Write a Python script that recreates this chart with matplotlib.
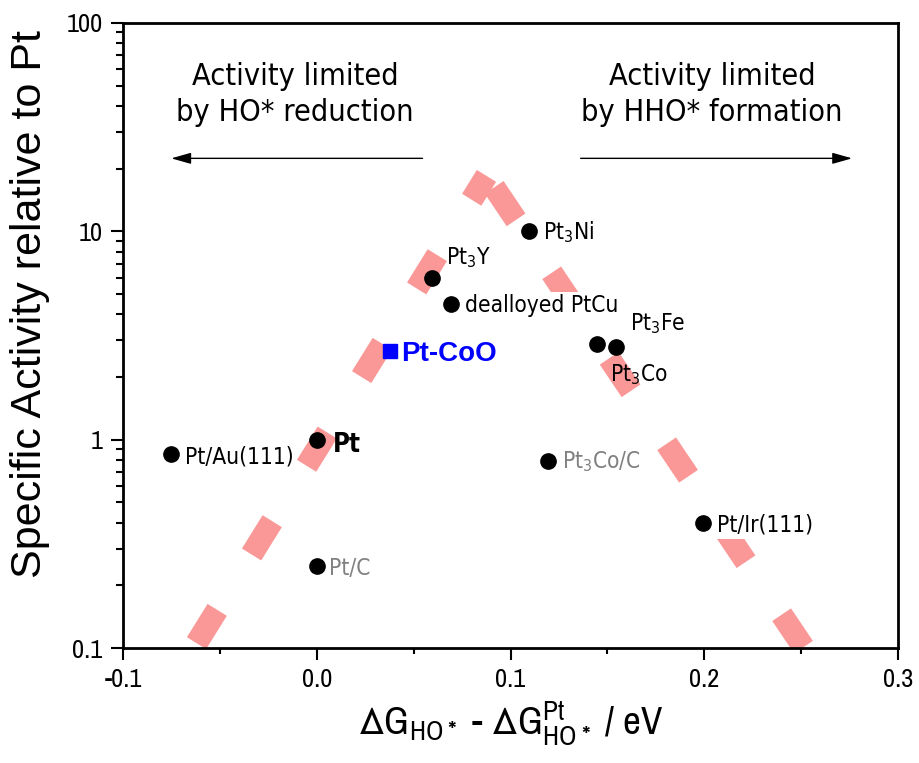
import matplotlib
matplotlib.use('Agg')
import matplotlib.pyplot as plt
import matplotlib.font_manager as fm
from matplotlib.ticker import FixedLocator, FixedFormatter, MultipleLocator, FormatStrFormatter, LogLocator, NullFormatter

# volcano line (Sabatier), both branches
volcano_x = [-0.0636, 0.0876, 0.2515]
volcano_y = [0.1, 18.45, 0.1]

# measured catalysts
names = ['Pt/Au(111)', 'Pt', 'Pt/C', r'Pt$\mathregular{_3}$Y', 'dealloyed PtCu',
         r'Pt$\mathregular{_3}$Ni', r'Pt$\mathregular{_3}$Co', r'Pt$\mathregular{_3}$Fe',
         r'Pt$\mathregular{_3}$Co/C', 'Pt/Ir(111)']
dG = [-0.0753, 0.0, 0.0, 0.0594, 0.0694, 0.1094, 0.1445, 0.1545, 0.1196, 0.1995]
activity = [0.854, 1.0, 0.248, 6.0, 4.48, 10.0, 2.88, 2.80, 0.79, 0.40]

# this work
new_name = 'Pt-CoO'
new_dG = 0.0376
new_activity = 2.67

# pick a narrow Arial-like face if there is one
narrow_prop = fm.FontProperties(family='Archivo Narrow')
for f in fm.fontManager.ttflist:
    if f.name == 'Liberation Sans Narrow' or (f.name == 'Liberation Sans' and f.stretch == 'condensed'):
        narrow_prop = fm.FontProperties(family=f.name, stretch=f.stretch)
        break
narrow = narrow_prop.get_family()[0]
narrow_stretch = narrow_prop.get_stretch()

plt.rcParams['axes.unicode_minus'] = False

fig = plt.figure(figsize=(9.2, 7.63), dpi=100)
ax = fig.add_axes([0.1337, 0.1507, 0.8424, 0.8192])

# dashed volcano, each branch has its own dash phase
ax.plot(volcano_x[:2][::-1], volcano_y[:2][::-1], color='#f99896', lw=16.3,
        ls=(0.49, (1.73, 2.88)), solid_capstyle='butt', dash_capstyle='butt', zorder=1)
ax.plot(volcano_x[1:], volcano_y[1:], color='#f99896', lw=16.3,
        ls=(3.94, (1.73, 2.82)), solid_capstyle='butt', dash_capstyle='butt', zorder=1)

ax.plot(dG, activity, 'o', color='black', ms=11, zorder=3, ls='none')
ax.plot([new_dG], [new_activity], 's', color='#0000ff', ms=9.5, zorder=3)

# label offsets in points and styles
offsets = [(10.1, -7.2), (11.7, -8.9), (9.1, -6.7), (9.9, 9.6), (9.6, -6.0),
           (10.1, -5.5), (9.6, -26.4), (10.1, 11.5), (9.6, -5.3), (9.6, -6.5)]
colors = ['black', 'black', '#808080', 'black', 'black', 'black', 'black', 'black', '#808080', 'black']
lab_prop = fm.FontProperties(family='DejaVu Sans', stretch='condensed', size=16.3)
bold_prop = fm.FontProperties(family='DejaVu Sans', stretch='condensed', weight='bold', size=18.5)
for i, name in enumerate(names):
    prop = bold_prop if name == 'Pt' else lab_prop
    bbox = None
    if name in ('dealloyed PtCu', 'Pt/Ir(111)'):
        bbox = dict(fc='white', ec='none', pad=1.5)
    ax.annotate(name, (dG[i], activity[i]), xytext=offsets[i], textcoords='offset points',
                ha='left', va='baseline', color=colors[i], fontproperties=prop,
                bbox=bbox, zorder=4)
ax.annotate(new_name, (new_dG, new_activity), xytext=(8.4, -7.2), textcoords='offset points',
            ha='left', va='baseline', color='#0000ff', fontsize=20, fontweight='bold',
            family='Liberation Sans', zorder=4)

# region notes and arrows
note_prop = fm.FontProperties(family='DejaVu Sans', stretch='condensed', size=22)
ax.text(-0.0113, 45.5, 'Activity limited\nby HO* reduction', ha='center', va='center',
        linespacing=1.3, fontproperties=note_prop)
ax.text(0.2041, 45.5, 'Activity limited\nby HHO* formation', ha='center', va='center',
        linespacing=1.3, fontproperties=note_prop)
arrow = dict(arrowstyle='-|>,head_length=0.6,head_width=0.17', lw=1, color='black',
             mutation_scale=20, shrinkA=0, shrinkB=0)
ax.annotate('', xy=(-0.0751, 22.4), xytext=(0.0546, 22.4), arrowprops=arrow)
ax.annotate('', xy=(0.2763, 22.4), xytext=(0.1362, 22.4), arrowprops=arrow)

ax.set_yscale('log')
ax.set_xlim(-0.1, 0.3)
ax.set_ylim(0.1, 100)

ax.yaxis.set_major_locator(FixedLocator([0.1, 1, 10, 100]))
ax.yaxis.set_major_formatter(FixedFormatter(['0.1', '1', '10', '100']))
ax.yaxis.set_minor_locator(LogLocator(base=10, subs=range(2, 10)))
ax.yaxis.set_minor_formatter(NullFormatter())
ax.xaxis.set_major_locator(MultipleLocator(0.1))
ax.xaxis.set_minor_locator(MultipleLocator(0.05))
ax.xaxis.set_major_formatter(FormatStrFormatter('%.1f'))

for s in ax.spines.values():
    s.set_linewidth(2)
ax.tick_params(which='major', direction='out', length=8.6, width=1.5, pad=6)
ax.tick_params(axis='x', which='minor', direction='out', length=4.3, width=1.5)
ax.tick_params(axis='y', which='minor', direction='out', length=5, width=1.5)
for lab in ax.get_xticklabels() + ax.get_yticklabels():
    lab.set_fontfamily(narrow)
    lab.set_fontstretch(narrow_stretch)
    lab.set_fontsize(19)

ax.set_ylabel('Specific Activity relative to Pt', family='Liberation Sans', fontsize=31)
ax.yaxis.set_label_coords(-0.094, 0.5496)
ax.set_xlabel(r'$\mathregular{ΔG_{HO*}}$ - $\mathregular{ΔG^{Pt}_{HO*}}$ / eV',
              family=narrow, fontstretch=narrow_stretch, fontsize=28)
ax.xaxis.set_label_coords(0.5, -0.083)

fig.savefig('out.png', dpi=100)
